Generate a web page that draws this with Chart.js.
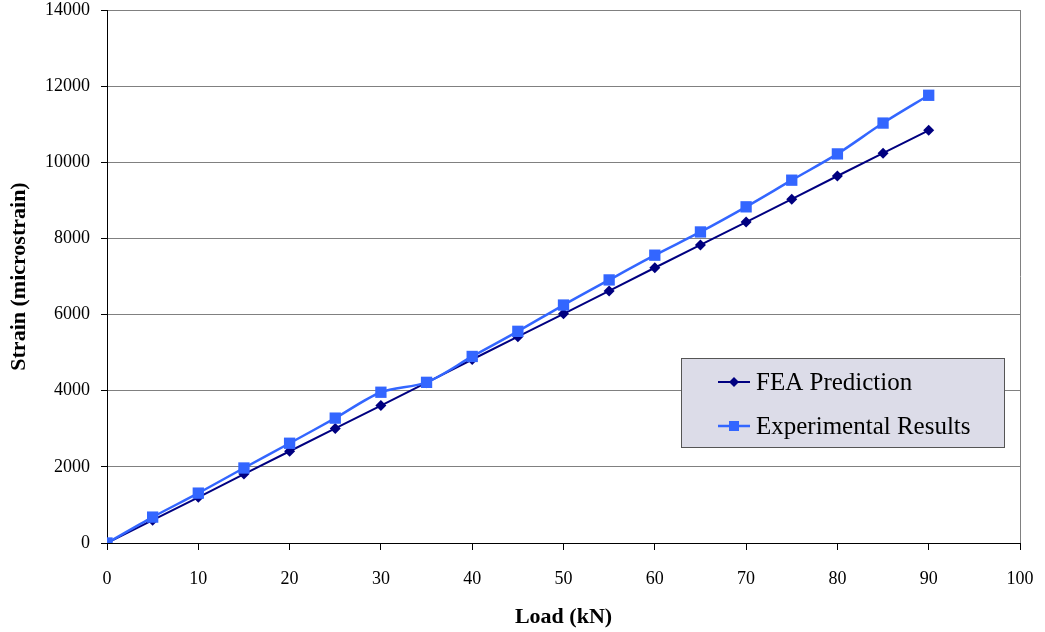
<!DOCTYPE html>
<html>
<head>
<meta charset="utf-8">
<title>Strain vs Load</title>
<script src="https://cdn.jsdelivr.net/npm/chart.js@4.4.0/dist/chart.umd.min.js"></script>
<style>
  html, body { margin: 0; padding: 0; background: #fff; }
  #wrap { width: 1045px; height: 632px; }
</style>
</head>
<body>
<div id="wrap"><canvas id="strainChart" width="1045" height="632"></canvas></div>
<script>
// load steps (kN)
var loads = [0, 5, 10, 15, 20, 25, 30, 35, 40, 45, 50, 55, 60, 65, 70, 75, 80, 85, 90];
// strain readings (microstrain)
var feaStrain = [0, 600, 1200, 1810, 2410, 3010, 3610, 4210, 4820, 5420, 6020, 6620, 7230, 7830, 8430, 9030, 9640, 10240, 10840];
var expStrain = [0, 680, 1310, 1970, 2620, 3280, 3960, 4220, 4900, 5560, 6250, 6910, 7560, 8170, 8830, 9530, 10220, 11030, 11760];
var seriesNames = ["FEA Prediction", "Experimental Results"];

var serif = "'Liberation Serif', 'Times New Roman', serif";

function toPoints(ys) {
  return loads.map(function (x, i) { return { x: x, y: ys[i] }; });
}

// grey frame on the right side of the plot
var rightEdge = {
  id: 'rightEdge',
  afterDatasetsDraw: function (chart) {
    var a = chart.chartArea, ctx = chart.ctx;
    ctx.save();
    ctx.strokeStyle = '#808080';
    ctx.lineWidth = 1;
    ctx.beginPath();
    ctx.moveTo(a.right + 0.5, a.top);
    ctx.lineTo(a.right + 0.5, a.bottom);
    ctx.stroke();
    ctx.restore();
  }
};

// boxed legend sitting inside the plot
var boxLegend = {
  id: 'boxLegend',
  afterDraw: function (chart) {
    var ctx = chart.ctx;
    var bx = 681, by = 358, bw = 323, bh = 89;
    ctx.save();
    ctx.fillStyle = '#dcdce8';
    ctx.fillRect(bx, by, bw, bh);
    ctx.strokeStyle = '#555';
    ctx.lineWidth = 1;
    ctx.strokeRect(bx + 0.5, by + 0.5, bw, bh);

    chart.data.datasets.forEach(function (ds, i) {
      var cy = by + 24 + i * 44;
      ctx.strokeStyle = ds.borderColor;
      ctx.lineWidth = ds.borderWidth;
      ctx.beginPath();
      ctx.moveTo(718, cy);
      ctx.lineTo(750, cy);
      ctx.stroke();
      ctx.fillStyle = ds.backgroundColor;
      ctx.beginPath();
      if (ds.pointStyle === 'rect') {
        ctx.rect(729, cy - 5, 10, 10);
      } else {
        ctx.moveTo(734, cy - 5);
        ctx.lineTo(739, cy);
        ctx.lineTo(734, cy + 5);
        ctx.lineTo(729, cy);
        ctx.closePath();
      }
      ctx.fill();
      ctx.fillStyle = '#000';
      ctx.font = '25px ' + serif;
      ctx.textBaseline = 'middle';
      ctx.textAlign = 'left';
      ctx.fillText(ds.label, 756, cy + 1);
    });
    ctx.restore();
  }
};

var ctx = document.getElementById('strainChart').getContext('2d');
window.strainChart = new Chart(ctx, {
  type: 'line',
  data: {
    datasets: [{
      label: seriesNames[0],
      data: toPoints(feaStrain),
      borderColor: '#000080',
      backgroundColor: '#000080',
      borderWidth: 2,
      pointStyle: 'rectRot',
      pointRadius: 5.5,
      pointBorderWidth: 0,
      tension: 0,
      order: 1
    }, {
      label: seriesNames[1],
      data: toPoints(expStrain),
      borderColor: '#3366ff',
      backgroundColor: '#3366ff',
      borderWidth: 2.5,
      pointStyle: 'rect',
      pointRadius: 8,
      pointBorderWidth: 0,
      tension: 0.3,
      order: 0
    }]
  },
  options: {
    responsive: false,
    animation: false,
    layout: { padding: 0 },
    plugins: {
      legend: { display: false },
      tooltip: { enabled: false }
    },
    scales: {
      x: {
        type: 'linear',
        min: 0,
        max: 100,
        ticks: {
          stepSize: 10,
          padding: 18,
          color: '#000',
          font: { family: serif, size: 18 }
        },
        grid: {
          drawOnChartArea: false,
          tickLength: 7,
          tickColor: '#000'
        },
        border: { color: '#000', width: 1 },
        title: {
          display: true,
          text: 'Load (kN)',
          color: '#000',
          font: { family: serif, size: 22, weight: 'bold', lineHeight: 1.2 },
          padding: { top: 0, bottom: 1 }
        },
        afterFit: function (scale) {
          scale.height = 89;
          scale.paddingLeft = 0;
          scale.paddingRight = 25;
        }
      },
      y: {
        min: 0,
        max: 14000,
        ticks: {
          stepSize: 2000,
          padding: 11,
          color: '#000',
          font: { family: serif, size: 18 },
          callback: function (v) { return String(v); }
        },
        grid: {
          color: '#808080',
          lineWidth: 1,
          tickLength: 6,
          tickColor: '#000'
        },
        border: { color: '#000', width: 1 },
        title: {
          display: true,
          text: 'Strain (microstrain)',
          color: '#000',
          font: { family: serif, size: 22, weight: 'bold', lineHeight: 1.2 },
          padding: { top: 6, bottom: 0 }
        },
        afterFit: function (scale) {
          scale.width = 107;
          scale.paddingTop = 10;
        }
      }
    }
  },
  plugins: [rightEdge, boxLegend]
});
</script>
</body>
</html>
